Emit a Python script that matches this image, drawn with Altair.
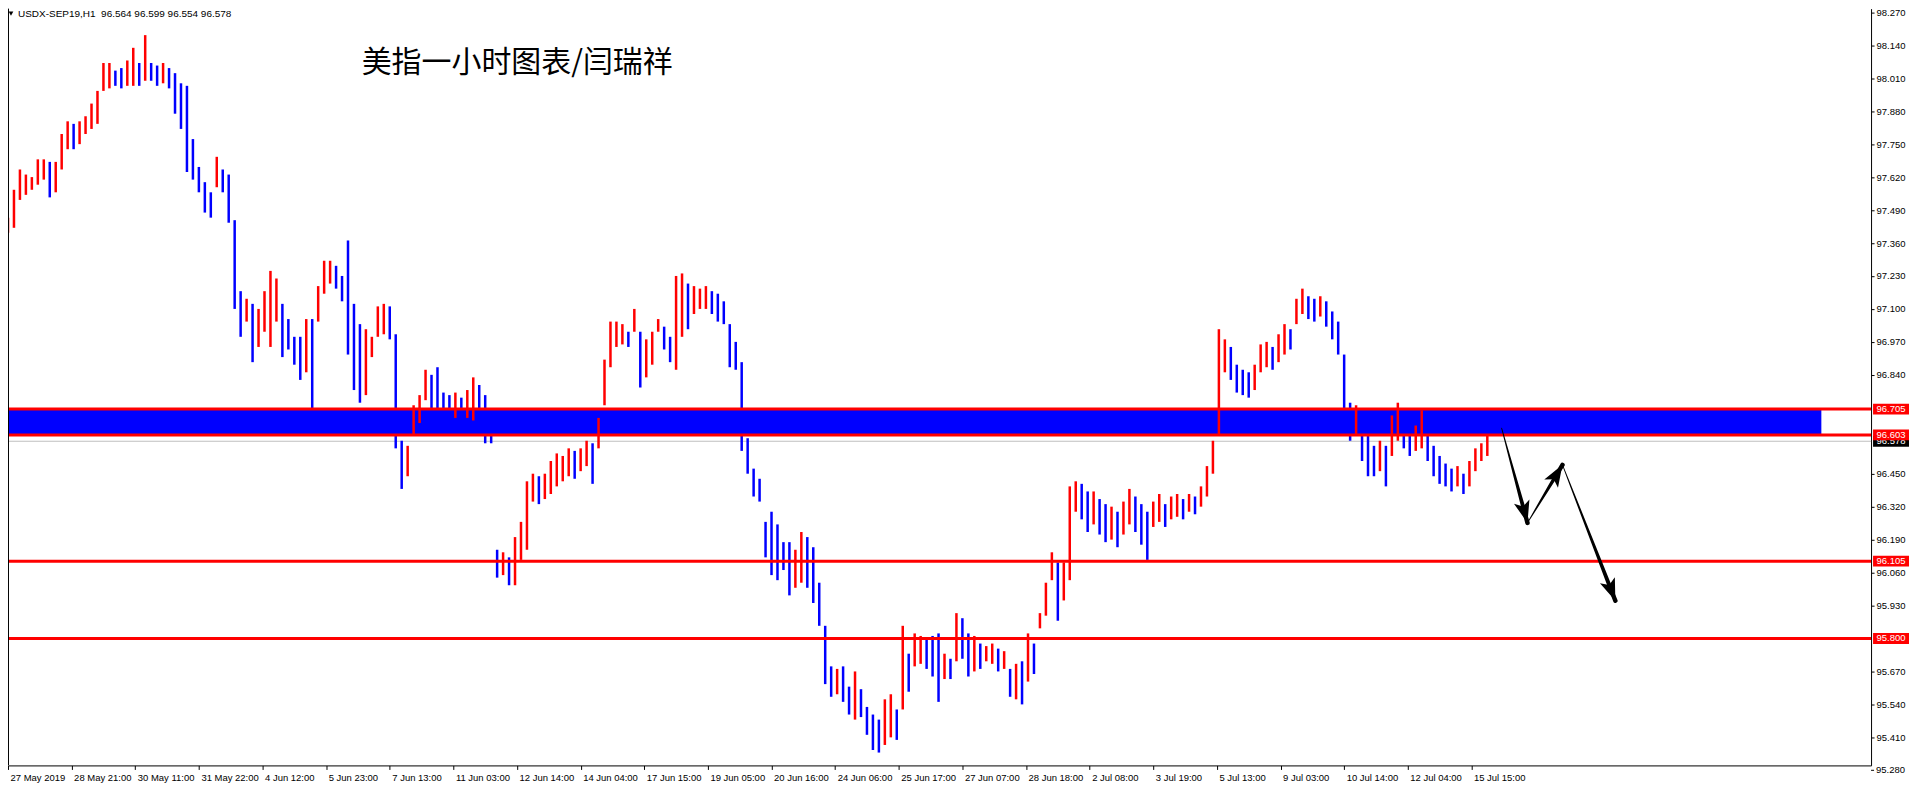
import json
import math
import altair as alt
import numpy as np
import pandas as pd

# ---------------- data ----------------
# one bar drawn every 3 hourly bars (hour offset = 3 * index)
bar_lows = [
    97.40, 97.42, 97.53, 97.55, 97.57, 97.59, 97.61, 97.54, 97.56, 97.65,
    97.73, 97.73, 97.75, 97.79, 97.81, 97.83, 97.96, 97.97, 97.98, 97.97,
    97.98, 97.98, 97.98, 98.00, 98.00, 97.98, 97.99, 97.97, 97.87, 97.81,
    97.64, 97.61, 97.56, 97.48, 97.46, 97.58, 97.56, 97.44, 97.10, 96.99,
    97.05, 96.89, 96.95, 97.01, 96.95, 97.05, 96.91, 96.94, 96.88, 96.82,
    96.85, 96.70, 97.05, 97.16, 97.20, 97.18, 97.13, 96.92, 96.78, 96.73,
    96.76, 96.91, 96.99, 97.00, 96.98, 96.55, 96.39, 96.44, 96.60, 96.65,
    96.74, 96.70, 96.66, 96.68, 96.65, 96.67, 96.65, 96.67, 96.66, 96.66,
    96.57, 96.57, 96.04, 96.05, 96.01, 96.01, 96.11, 96.15, 96.34, 96.33,
    96.35, 96.37, 96.40, 96.42, 96.44, 96.43, 96.46, 96.48, 96.41, 96.55,
    96.72, 96.87, 96.95, 96.96, 96.95, 97.01, 96.79, 96.83, 96.88, 97.01,
    96.94, 96.89, 96.86, 96.99, 97.02, 97.08, 97.10, 97.10, 97.08, 97.05,
    97.04, 96.87, 96.86, 96.54, 96.45, 96.36, 96.34, 96.12, 96.05, 96.03,
    96.07, 95.97, 96.00, 96.02, 96.00, 95.94, 95.85, 95.62, 95.57, 95.58,
    95.55, 95.50, 95.48, 95.49, 95.42, 95.36, 95.35, 95.38, 95.41, 95.40,
    95.52, 95.59, 95.69, 95.70, 95.68, 95.65, 95.55, 95.64, 95.64, 95.71,
    95.72, 95.65, 95.67, 95.68, 95.71, 95.70, 95.67, 95.68, 95.57, 95.56,
    95.54, 95.63, 95.66, 95.84, 95.89, 96.03, 95.87, 95.95, 96.03, 96.30,
    96.27, 96.22, 96.25, 96.21, 96.18, 96.19, 96.16, 96.21, 96.25, 96.22,
    96.17, 96.11, 96.24, 96.26, 96.24, 96.27, 96.28, 96.27, 96.30, 96.29,
    96.32, 96.36, 96.45, 96.60, 96.85, 96.82, 96.77, 96.76, 96.75, 96.78,
    96.85, 96.87, 96.86, 96.89, 96.92, 96.94, 97.04, 97.08, 97.06, 97.05,
    97.07, 97.03, 96.98, 96.92, 96.68, 96.58, 96.60, 96.50, 96.44, 96.44,
    96.46, 96.40, 96.52, 96.58, 96.55, 96.52, 96.54, 96.55, 96.50, 96.44,
    96.41, 96.40, 96.38, 96.40, 96.37, 96.40, 96.46, 96.50, 96.52,
]
bar_highs = [
    97.46, 97.57, 97.65, 97.63, 97.62, 97.69, 97.69, 97.68, 97.68, 97.79,
    97.84, 97.83, 97.84, 97.86, 97.91, 97.96, 98.07, 98.07, 98.04, 98.05,
    98.08, 98.13, 98.07, 98.18, 98.07, 98.06, 98.07, 98.05, 98.03, 97.99,
    97.98, 97.77, 97.66, 97.60, 97.56, 97.70, 97.65, 97.63, 97.45, 97.17,
    97.14, 97.12, 97.10, 97.17, 97.25, 97.22, 97.12, 97.06, 96.99, 96.99,
    97.06, 97.06, 97.19, 97.29, 97.29, 97.27, 97.23, 97.37, 97.12, 97.04,
    97.02, 96.99, 97.11, 97.12, 97.11, 97.00, 96.58, 96.56, 96.72, 96.76,
    96.86, 96.84, 96.87, 96.77, 96.76, 96.77, 96.75, 96.78, 96.83, 96.80,
    96.76, 96.67, 96.15, 96.14, 96.12, 96.20, 96.26, 96.42, 96.45, 96.44,
    96.45, 96.50, 96.53, 96.52, 96.55, 96.54, 96.55, 96.58, 96.57, 96.67,
    96.90, 97.05, 97.05, 97.04, 97.01, 97.10, 97.01, 96.98, 97.01, 97.06,
    97.03, 96.99, 97.23, 97.24, 97.20, 97.19, 97.18, 97.19, 97.17, 97.16,
    97.13, 97.04, 96.97, 96.89, 96.59, 96.47, 96.43, 96.26, 96.30, 96.25,
    96.18, 96.18, 96.15, 96.22, 96.20, 96.16, 96.02, 95.85, 95.69, 95.68,
    95.69, 95.61, 95.67, 95.60, 95.53, 95.50, 95.48, 95.56, 95.58, 95.52,
    95.85, 95.74, 95.82, 95.81, 95.80, 95.81, 95.82, 95.74, 95.72, 95.90,
    95.88, 95.82, 95.81, 95.78, 95.77, 95.78, 95.76, 95.75, 95.68, 95.70,
    95.71, 95.82, 95.78, 95.90, 96.02, 96.14, 96.10, 96.10, 96.40, 96.42,
    96.41, 96.38, 96.38, 96.35, 96.33, 96.32, 96.30, 96.34, 96.39, 96.36,
    96.33, 96.30, 96.34, 96.37, 96.33, 96.36, 96.37, 96.35, 96.37, 96.36,
    96.40, 96.48, 96.58, 97.02, 96.98, 96.95, 96.88, 96.86, 96.85, 96.88,
    96.96, 96.97, 96.95, 97.00, 97.04, 97.02, 97.14, 97.18, 97.15, 97.14,
    97.15, 97.13, 97.09, 97.05, 96.92, 96.73, 96.72, 96.65, 96.60, 96.56,
    96.58, 96.56, 96.68, 96.73, 96.68, 96.64, 96.64, 96.70, 96.62, 96.56,
    96.52, 96.49, 96.47, 96.48, 96.45, 96.50, 96.55, 96.57, 96.60,
]
hours_per_bar = 3

x_labels = [
    "27 May 2019", "28 May 21:00", "30 May 11:00", "31 May 22:00", "4 Jun 12:00",
    "5 Jun 23:00", "7 Jun 13:00", "11 Jun 03:00", "12 Jun 14:00", "14 Jun 04:00",
    "17 Jun 15:00", "19 Jun 05:00", "20 Jun 16:00", "24 Jun 06:00", "25 Jun 17:00",
    "27 Jun 07:00", "28 Jun 18:00", "2 Jul 08:00", "3 Jul 19:00", "5 Jul 13:00",
    "9 Jul 03:00", "10 Jul 14:00", "12 Jul 04:00", "15 Jul 15:00",
]
hours_per_label = 32

y_ticks = [98.270, 98.140, 98.010, 97.880, 97.750, 97.620, 97.490, 97.360,
           97.230, 97.100, 96.970, 96.840, 96.450, 96.320, 96.190, 96.060,
           95.930, 95.670, 95.540, 95.410]
y_bottom_tick = 95.280

level_prices = [96.705, 96.603, 96.105, 95.800]
current_price = 96.578
zone_top, zone_bottom = 96.705, 96.603
zone_end_hour = 912

arrow_hours = [751.2, 764.2, 781.8, 808.4]
arrow_prices = [96.630, 96.256, 96.485, 95.949]

header_text = "USDX-SEP19,H1\u00a0 96.564 96.599 96.554 96.578"
title_text = "美指一小时图表/闫瑞祥"

# ---------------- layout ----------------
W, H = 1866, 758
X_DOMAIN = [0, 937]
Y_DOMAIN = [95.2993, 98.2846]
FONT = "Liberation Sans"

xs = alt.Scale(domain=X_DOMAIN, nice=False, zero=False)
ys = alt.Scale(domain=Y_DOMAIN, nice=False, zero=False)

df = pd.DataFrame({
    "hour": [hours_per_bar * i for i in range(len(bar_lows))],
    "low": bar_lows,
    "high": bar_highs,
})
mid = (df["low"] + df["high"]) / 2
df["dir"] = np.where(mid.diff().fillna(1) >= 0, "up", "down")

x_tick_vals = [hours_per_label * k for k in range(len(x_labels))]
label_expr = json.dumps(x_labels) + "[round(datum.value / %d)]" % hours_per_label

# identical axis definitions are given to every layer so the shared axes merge
x_axis = alt.Axis(
    values=x_tick_vals, labelExpr=label_expr, title=None, grid=False,
    domainColor="black", domainWidth=1, tickColor="black", tickSize=4,
    labelAlign="left", labelBaseline="top", labelPadding=3, labelOffset=2,
    labelFont=FONT, labelFontSize=9.5, labelColor="black",
    labelFlush=False, labelOverlap=False)
y_axis = alt.Axis(
    orient="right", values=y_ticks, format=".3f", title=None, grid=False,
    domainColor="black", domainWidth=1, tickColor="black", tickSize=3,
    labelPadding=2, labelFont=FONT, labelFontSize=9.5, labelColor="black",
    labelFlush=False, labelOverlap=False)


def X(field):
    return alt.X(field, scale=xs, axis=x_axis)


def Y(field):
    return alt.Y(field, scale=ys, axis=y_axis)


zone = alt.Chart(pd.DataFrame({
    "x0": [X_DOMAIN[0]], "x1": [zone_end_hour], "y0": [zone_bottom], "y1": [zone_top]
})).mark_rect(color="#0000FF").encode(
    x=X("x0:Q"), x2="x1:Q", y=Y("y0:Q"), y2="y1:Q",
)

bars = alt.Chart(df).mark_rule(strokeWidth=2.5).encode(
    x=X("hour:Q"), y=Y("low:Q"), y2="high:Q",
    color=alt.Color("dir:N", scale=alt.Scale(domain=["up", "down"],
                                             range=["#FF0000", "#0000FF"]), legend=None),
)

levels_df = pd.DataFrame({"price": level_prices,
                          "label": [f"{p:.3f}" for p in level_prices]})
cur_df = pd.DataFrame({"price": [current_price], "label": [f"{current_price:.3f}"]})
bottom_df = pd.DataFrame({"price": [y_bottom_tick], "label": [f"{y_bottom_tick:.3f}"]})

cur_line = alt.Chart(cur_df).mark_rule(color="#C0C0C0", strokeWidth=1).encode(
    y=Y("price:Q"))
red_lines = alt.Chart(levels_df).mark_rule(color="#FF0000", strokeWidth=3).encode(
    y=Y("price:Q"))

# bottom price label of the right scale (lies just under the plotted range)
bottom_tick = alt.Chart(bottom_df).mark_rule(color="black", strokeWidth=1).encode(
    x=alt.value(W), x2=alt.value(W + 3), y=Y("price:Q"))
bottom_lbl = alt.Chart(bottom_df).mark_text(
    font=FONT, fontSize=9.5, color="black", align="left", baseline="middle").encode(
    x=alt.value(W + 5), y=Y("price:Q"), text="label:N")

box_path = "M-1,-0.3L1,-0.3L1,0.3L-1,0.3Z"
BOX_X = W + 20
cur_box = alt.Chart(cur_df).mark_point(shape=box_path, filled=True, size=1296,
                                       color="#000000", opacity=1).encode(
    x=alt.value(BOX_X), y=Y("price:Q"))
cur_txt = alt.Chart(cur_df).mark_text(color="white", font=FONT, fontSize=9.5,
                                      align="center", baseline="middle").encode(
    x=alt.value(BOX_X), y=Y("price:Q"), text="label:N")
lvl_box = alt.Chart(levels_df).mark_point(shape=box_path, filled=True, size=1296,
                                          color="#FF0000", opacity=1).encode(
    x=alt.value(BOX_X), y=Y("price:Q"))
lvl_txt = alt.Chart(levels_df).mark_text(color="white", font=FONT, fontSize=9.5,
                                         align="center", baseline="middle").encode(
    x=alt.value(BOX_X), y=Y("price:Q"), text="label:N")

# arrows
px_h = W / (X_DOMAIN[1] - X_DOMAIN[0])
px_p = H / (Y_DOMAIN[1] - Y_DOMAIN[0])
trail_rows, head_rows = [], []
for k in range(len(arrow_hours) - 1):
    h0, p0 = arrow_hours[k], arrow_prices[k]
    h1, p1 = arrow_hours[k + 1], arrow_prices[k + 1]
    trail_rows.append({"seg": k, "ord": 0, "hour": h0, "price": p0, "w": 0.8})
    trail_rows.append({"seg": k, "ord": 1, "hour": h1, "price": p1, "w": 4.5})
    dx = (h1 - h0) * px_h
    dy = -(p1 - p0) * px_p
    ang = math.degrees(math.atan2(dx, -dy)) % 360
    head_rows.append({"hour": h1, "price": p1, "ang": ang})

trails = alt.Chart(pd.DataFrame(trail_rows)).mark_trail(color="black").encode(
    x=X("hour:Q"), y=Y("price:Q"),
    size=alt.Size("w:Q", scale=None, legend=None),
    detail="seg:N", order="ord:Q")
heads = alt.Chart(pd.DataFrame(head_rows)).mark_point(
    shape="M0,0L0.8,2.2L0,1.7L-0.8,2.2Z", filled=True, size=400,
    color="black", opacity=1).encode(
    x=X("hour:Q"), y=Y("price:Q"),
    angle=alt.Angle("ang:Q", scale=None))

left_border = alt.Chart(pd.DataFrame({"a": [0]})).mark_rule(
    color="black", strokeWidth=1).encode(
    x=alt.value(0.5), y=alt.value(0), y2=alt.value(H))

hdr_tri = alt.Chart(pd.DataFrame({"a": [0]})).mark_point(
    shape="triangle-down", filled=True, size=22, color="black", opacity=1).encode(
    x=alt.value(3), y=alt.value(5))
hdr_txt = alt.Chart(pd.DataFrame({"t": [header_text]})).mark_text(
    font=FONT, fontSize=10, color="black", align="left", baseline="middle").encode(
    x=alt.value(10), y=alt.value(5.5), text="t:N")
title = alt.Chart(pd.DataFrame({"t": [title_text]})).mark_text(
    font="Noto Sans CJK SC", fontSize=30, color="black", align="center",
    baseline="middle").encode(x=alt.value(510), y=alt.value(54), text="t:N")

chart = alt.layer(
    zone, cur_line, bars, red_lines, trails, heads, left_border,
    bottom_tick, bottom_lbl,
    cur_box, cur_txt, lvl_box, lvl_txt, hdr_tri, hdr_txt, title,
).properties(
    width=W, height=H,
    autosize=alt.AutoSizeParams(type="none"),
    padding={"left": 0, "top": 0, "right": 38, "bottom": 18},
    background="white",
).configure_view(stroke=None)

chart.save("out.html", embed_options={"renderer": "svg", "actions": False})
